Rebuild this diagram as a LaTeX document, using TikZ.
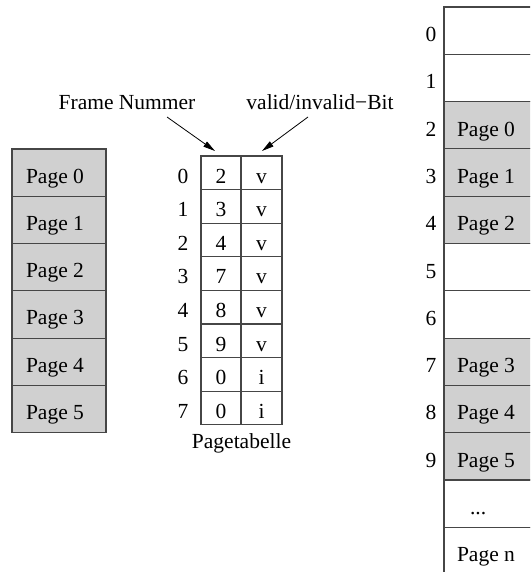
\documentclass[tikz,border=0pt]{standalone}
\usepackage{fontspec}
\setmainfont{Liberation Serif}
\usetikzlibrary{arrows.meta}
\definecolor{pagegray}{RGB}{208,208,208}
\definecolor{rulegray}{RGB}{70,70,70}
\begin{document}
\begin{tikzpicture}[x=1pt,y=-1pt,
  every node/.style={font=\fontsize{21.5}{26}\selectfont, inner sep=0pt, outer sep=0pt},
  box/.style={draw=rulegray, line width=1.1pt, anchor=north west, minimum height=47.3pt, minimum width=94pt},
  tcell/.style={draw=rulegray, line width=1.1pt, anchor=north west, minimum height=33.6pt},
  arr/.style={draw=black, line width=0.8pt, -{Triangle[length=12pt,width=6pt]}}]
\clip (0,0) rectangle (530,572);
\fill[white] (0,0) rectangle (530,572);

% logical address space
\foreach \i in {0,...,5}{
  \node[box, fill=pagegray] (lp\i) at (12,149+\i*47.3) {};
  \node[anchor=base west] (lt\i) at (26,183+\i*47.3) {Page \i};
}

% page table
\foreach \r/\fn/\vb in {0/2/v,1/3/v,2/4/v,3/7/v,4/8/v,5/9/v,6/0/i,7/0/i}{
  \node[tcell, minimum width=40pt] (pf\r) at (201,156+\r*33.6) {};
  \node[tcell, minimum width=41pt] (pv\r) at (241,156+\r*33.6) {};
  \node[anchor=base] at (221,183+\r*33.6) {\fn};
  \node[anchor=base] at (261.5,183+\r*33.6) {\vb};
  \node[anchor=base] (pr\r) at (183,183+\r*33.6) {\r};
}
\node[anchor=base] (ptlabel) at (241.5,448) {Pagetabelle};

% labels with arrows
\node[anchor=base] (fn) at (127,110) {Frame Nummer};
\node[anchor=base] (vb) at (320,110) {valid/invalid−Bit};
\coordinate (fnFrom) at (167,117);
\coordinate (fnTo) at (215,151);
\coordinate (vbFrom) at (308,117);
\coordinate (vbTo) at (262,151);
\draw[arr] (fnFrom) -- (fnTo);
\draw[arr] (vbFrom) -- (vbTo);

% physical memory
\foreach \i/\f in {0/white,1/white,2/pagegray,3/pagegray,4/pagegray,5/white,6/white,7/pagegray,8/pagegray,9/pagegray,10/white,11/white}{
  \node[box, fill=\f] (mem\i) at (444,7+\i*47.3) {};
}
\foreach \i in {0,...,9}{
  \node[anchor=base] (mn\i) at (431,41.5+\i*47.3) {\i};
}
\foreach \i/\p in {2/0,3/1,4/2,7/3,8/4,9/5}{
  \node[anchor=base west] (mt\i) at (457,41.5+\i*47.3) {Page \p};
}
\node[anchor=base west] (mdots) at (470,41.5+10*47.3) {...};
\node[anchor=base west] (mpn) at (457,41.5+11*47.3) {Page n};
\end{tikzpicture}
\end{document}
